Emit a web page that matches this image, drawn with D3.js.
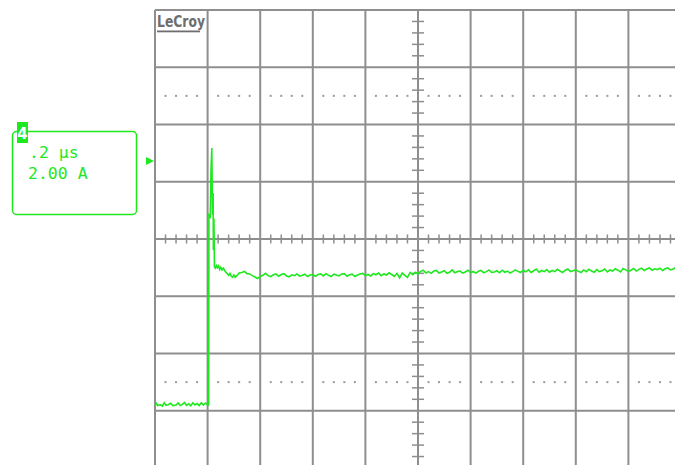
<!DOCTYPE html>
<html>
<head>
<meta charset="utf-8">
<script src="https://cdn.jsdelivr.net/npm/d3@7"></script>
<style>
  html, body { margin: 0; padding: 0; background: #fff; }
  svg { display: block; }
</style>
</head>
<body>
<svg id="scope" width="675" height="465"></svg>
<script>
// Screen layout: 10 horizontal divisions (0.2 µs/div), 8 vertical divisions (2.00 A/div)
const timeDivs = [-200, 0, 200, 400, 600, 800, 1000, 1200, 1400, 1600, 1800]; // ns
const ampDivs = [-8, -6, -4, -2, 0, 2, 4, 6, 8];                               // A
const dotRows = [5, -5];                                                        // A, dotted marker rows
const timebaseLabel = ".2 µs";
const scaleLabel = "2.00 A";
const channelLabel = "4";

// Acquisition: pre-trigger baseline and switching transient, [time ns, current A]
const headSamples = [
  [-200, -5.80], [-195, -5.74], [-190, -5.82], [-180, -5.79], [-172, -5.84], [-165, -5.72],
  [-158, -5.81], [-150, -5.79], [-140, -5.74], [-132, -5.82], [-120, -5.80], [-112, -5.73],
  [-104, -5.82], [-96, -5.78], [-88, -5.71], [-80, -5.81], [-72, -5.76], [-64, -5.83],
  [-56, -5.72], [-48, -5.80], [-40, -5.75], [-32, -5.82], [-24, -5.72], [-16, -5.80],
  [-8, -5.73], [0, -5.80], [4, -5.80], [5, 0.84], [10, 0.78], [13, 2.40], [16, 3.18],
  [18, 1.30], [19, 0.84], [21, 1.61], [22, -0.38], [24, 0.72], [26, -0.98],
  [30, -1.02], [34, -0.93], [38, -1.00], [42, -0.94], [46, -1.06], [50, -0.99], [55, -1.08],
  [60, -1.02], [65, -1.10], [70, -1.17], [75, -1.21], [80, -1.27], [85, -1.20],
  [90, -1.30], [95, -1.33], [100, -1.26], [105, -1.34], [110, -1.29],
  [115, -1.25], [120, -1.19]
];

// Settled current after the transient, sampled every 10 ns from 130 ns
const tailStart = 130;
const tailStep = 10;
const tailValues = [
  -1.17, -1.13, -1.21, -1.22, -1.28, -1.33, -1.38, -1.31,
  -1.27, -1.20, -1.28, -1.31, -1.25, -1.22, -1.30, -1.24, -1.21, -1.29,
  -1.32, -1.25, -1.28, -1.22, -1.30, -1.27, -1.23, -1.31, -1.26, -1.24,
  -1.30, -1.24, -1.22, -1.29, -1.21, -1.27, -1.31, -1.23, -1.26, -1.29,
  -1.22, -1.21, -1.30, -1.25, -1.23, -1.31, -1.26, -1.22, -1.20, -1.28,
  -1.24, -1.29, -1.21, -1.25, -1.19, -1.28, -1.22, -1.26, -1.18, -1.24,
  -1.31, -1.20, -1.36, -1.19, -1.27, -1.34, -1.17, -1.25, -1.16, -1.22,
  -1.13, -1.09, -1.19, -1.14, -1.20, -1.12, -1.10, -1.19, -1.15, -1.11,
  -1.20, -1.16, -1.08, -1.18, -1.14, -1.12, -1.19, -1.15, -1.09, -1.17,
  -1.14, -1.19, -1.13, -1.10, -1.18, -1.14, -1.08, -1.17, -1.15, -1.11,
  -1.18, -1.09, -1.16, -1.12, -1.19, -1.14, -1.08, -1.13, -1.17, -1.10,
  -1.15, -1.08, -1.17, -1.11, -1.05, -1.16, -1.10, -1.14, -1.07, -1.16,
  -1.10, -1.14, -1.06, -1.12, -1.17, -1.09, -1.05, -1.14, -1.11, -1.08,
  -1.13, -1.17, -1.08, -1.14, -1.06, -1.12, -1.16, -1.07, -1.14, -1.11,
  -1.05, -1.15, -1.08, -1.12, -1.04, -1.09, -1.15, -1.03, -1.08, -1.13,
  -1.09, -1.03, -1.12, -1.06, -1.02, -1.10, -1.05, -1.01, -1.09, -1.04,
  -1.07, -1.02, -1.10, -1.04, -1.01, -1.08, -1.05, -1.00, -1.07, -1.03
];

const trace = headSamples.map(d => ({ t: d[0], a: d[1] }))
  .concat(tailValues.map((a, i) => ({ t: tailStart + i * tailStep, a })));

const svg = d3.select("#scope");
const gridColor = "#8e8e8e";
const traceColor = "#1ee81e";

const x = d3.scaleLinear().domain([-200, 1800]).range([155, 681]);
const y = d3.scaleLinear().domain([-8, 8]).range([468, 10]);

// Graticule
const grid = svg.append("g");
grid.selectAll("line.v").data(timeDivs).join("line")
  .attr("x1", d => x(d)).attr("x2", d => x(d))
  .attr("y1", y(8)).attr("y2", y(-8))
  .attr("stroke", gridColor).attr("stroke-width", 2);
grid.selectAll("line.h").data(ampDivs).join("line")
  .attr("y1", d => y(d)).attr("y2", d => y(d))
  .attr("x1", x(-200)).attr("x2", x(1800))
  .attr("stroke", gridColor).attr("stroke-width", 2);

// Minor ticks along the centre axes (5 per division)
const tMinor = d3.range(-200, 1801, 40).filter(t => t % 200 !== 0);
const aMinor = d3.range(-8, 8.01, 0.4).map(v => +v.toFixed(1)).filter(v => Math.abs(v % 2) > 0.01);
grid.selectAll("line.tm").data(tMinor).join("line")
  .attr("x1", d => x(d)).attr("x2", d => x(d))
  .attr("y1", y(0) - 4.5).attr("y2", y(0) + 4.5)
  .attr("stroke", gridColor).attr("stroke-width", 1.5);
grid.selectAll("line.am").data(aMinor).join("line")
  .attr("y1", d => y(d)).attr("y2", d => y(d))
  .attr("x1", x(800) - 6).attr("x2", x(800) + 6)
  .attr("stroke", gridColor).attr("stroke-width", 1.5);

// Dotted marker rows
const dots = [];
dotRows.forEach(r => tMinor.forEach(t => dots.push({ t, a: r })));
grid.selectAll("rect.dot").data(dots).join("rect")
  .attr("x", d => x(d.t) - 1).attr("y", d => y(d.a) - 1)
  .attr("width", 2).attr("height", 2)
  .attr("fill", "#9a9a9a");

// Maker logo
svg.append("text")
  .attr("x", 157).attr("y", 27)
  .attr("font-family", "DejaVu Sans Condensed, DejaVu Sans, sans-serif")
  .attr("font-weight", "bold").attr("font-size", 15)
  .attr("textLength", 48).attr("lengthAdjust", "spacingAndGlyphs")
  .attr("fill", "#6e6e6e").text("LeCroy");
svg.append("rect")
  .attr("x", 157).attr("y", 30.5).attr("width", 43).attr("height", 1.8)
  .attr("fill", "#6e6e6e");

// Waveform
const line = d3.line().x(d => x(d.t)).y(d => y(d.a));
svg.append("path")
  .datum(trace)
  .attr("d", line)
  .attr("fill", "none")
  .attr("stroke", traceColor)
  .attr("stroke-width", 1.6)
  .attr("stroke-linejoin", "miter");

// Channel readout box
const box = svg.append("g");
box.append("rect")
  .attr("x", 12.5).attr("y", 131.5).attr("width", 124).attr("height", 83)
  .attr("rx", 4).attr("fill", "none")
  .attr("stroke", traceColor).attr("stroke-width", 1.5);
box.append("rect")
  .attr("x", 17).attr("y", 122).attr("width", 11).attr("height", 21)
  .attr("fill", traceColor);
box.append("text")
  .attr("x", 22.5).attr("y", 139).attr("text-anchor", "middle")
  .attr("font-family", "DejaVu Sans, sans-serif").attr("font-weight", "bold")
  .attr("font-size", 15).attr("fill", "#fff").text(channelLabel);
box.append("text")
  .attr("x", 29).attr("y", 158)
  .attr("font-family", "DejaVu Sans Mono, monospace")
  .attr("font-size", 16.5).attr("fill", traceColor).text(timebaseLabel);
box.append("text")
  .attr("x", 28).attr("y", 179)
  .attr("font-family", "DejaVu Sans Mono, monospace")
  .attr("font-size", 16.5).attr("fill", traceColor).text(scaleLabel);

// Trigger level marker
const trigY = 161;
svg.append("path")
  .attr("d", d3.line()([[146, trigY - 4], [154, trigY], [146, trigY + 4]]) + "Z")
  .attr("fill", traceColor);
</script>
</body>
</html>
